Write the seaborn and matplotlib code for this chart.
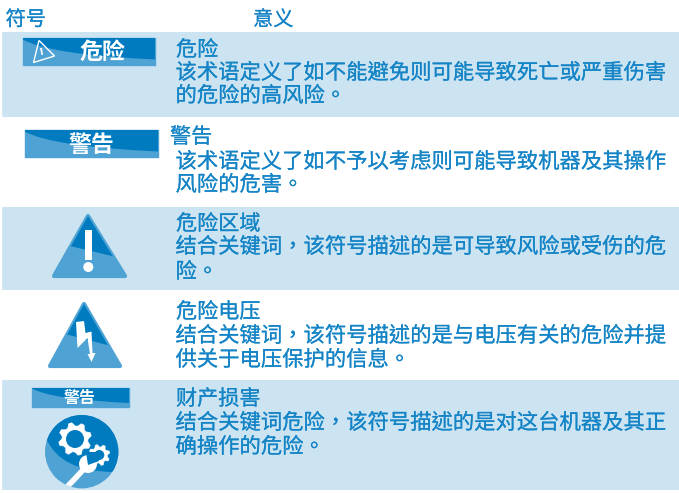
import numpy as np
import matplotlib
matplotlib.use("Agg")
import matplotlib.pyplot as plt
import matplotlib.patheffects as pe
from matplotlib.patches import Polygon, Circle, Rectangle, PathPatch
from matplotlib.path import Path
import seaborn as sns

# rows of the table
row_edges = [32, 117, 207, 290, 380, 490]
row_fill = [679, 0, 679, 0, 679]

headers = ["符号", "意义"]
row_titles = ["危险", "警告", "危险区域", "危险电压", "财产损害"]
row_lines = [
    ["该术语定义了如不能避免则可能导致死亡或严重伤害", "的危险的高风险。"],
    ["该术语定义了如不予以考虑则可能导致机器及其操作", "风险的危害。"],
    ["结合关键词，该符号描述的是可导致风险或受伤的危", "险。"],
    ["结合关键词，该符号描述的是与电压有关的危险并提", "供关于电压保护的信息。"],
    ["结合关键词危险，该符号描述的是对这台机器及其正", "确操作的危险。"],
]
title_y = [50, 137, 224, 312, 399]
title_x = [176, 170, 176, 176, 176]
line_y = [[73, 96], [162, 185], [247, 272], [336, 360], [423, 447]]

DARK = "#007bc0"
LIGHT = "#4fa3d4"
BAND = "#cce4f2"
TEXT = "#1484c6"

sns.set_theme(style="white")
plt.rcParams["font.family"] = ["Noto Sans CJK TC", "DejaVu Sans"]

fig = plt.figure(figsize=(6.79, 4.93), dpi=100)
ax = fig.add_axes([0, 0, 1, 1])

centres = [(a + b) / 2 for a, b in zip(row_edges[:-1], row_edges[1:])]
sns.histplot(y=centres, weights=row_fill, bins=row_edges, color=BAND, alpha=1,
             linewidth=0, ax=ax)
ax.set_xlim(0, 679)
ax.set_ylim(493, 0)
ax.axis("off")
ax.add_patch(Rectangle((0, 0), 1, 493, color="white", zorder=1.5))

thicker = [pe.withStroke(linewidth=0.12, foreground=TEXT)]


def two_tone(shape, curve):
    # light base with the dark top part clipped to the shape
    base = ax.add_patch(PathPatch(shape, fc=LIGHT, ec=LIGHT, lw=1, joinstyle="round", zorder=2))
    dark = ax.add_patch(PathPatch(curve, fc=DARK, ec="none", zorder=3))
    dark.set_clip_path(base)


def badge(x0, y0, x1, y1):
    shape = Path([(x0, y0), (x1, y0), (x1, y1), (x0, y1), (x0, y0)], closed=True)
    h = y1 - y0
    w = x1 - x0
    verts = [(x0 - 2, y0 - 2), (x0, y0 + 0.05 * h), (x0 + 0.2 * w, y0 + 0.62 * h), (x1 + 2, y1 - 0.2 * h),
             (x1 + 2, y0 - 2), (x0 - 2, y0 - 2)]
    codes = [Path.MOVETO, Path.LINETO, Path.CURVE3, Path.CURVE3, Path.LINETO, Path.CLOSEPOLY]
    two_tone(shape, Path(verts, codes))


def triangle(apex, left, right, cut_l, cut_r):
    shape = Path([apex, left, right, apex], closed=True)
    curve = Path([(cut_l[0] - 30, cut_l[1] - 6), cut_l, cut_r, (cut_r[0] + 30, cut_r[1] + 6),
                  (cut_r[0] + 30, apex[1] - 5), (cut_l[0] - 30, apex[1] - 5), (cut_l[0] - 30, cut_l[1] - 6)],
                 closed=True)
    base = ax.add_patch(PathPatch(shape, fc=LIGHT, ec=LIGHT, lw=3, joinstyle="round", zorder=2))
    dark = ax.add_patch(PathPatch(curve, fc=DARK, ec="none", zorder=3))
    dark.set_clip_path(base)


def gear(cx, cy, outer, inner, hole, teeth):
    ang = np.linspace(0, 2 * np.pi, teeth * 4, endpoint=False) + 0.2
    rad = np.tile([inner, outer, outer, inner], teeth)
    pts = np.column_stack([cx + rad * np.cos(ang), cy + rad * np.sin(ang)])
    ax.add_patch(Polygon(pts, fc="white", ec="white", lw=0.5, zorder=5))
    ax.add_patch(Circle((cx, cy), hole, fc=DARK, ec="none", zorder=6))


# header
ax.text(5.5, 20, headers[0], color=TEXT, fontsize=14.6, va="center", ha="left", zorder=6, path_effects=thicker)
ax.text(253, 20, headers[1], color=TEXT, fontsize=14.6, va="center", ha="left", zorder=6, path_effects=thicker)

# right column
for tx, ty, title, ys, lines in zip(title_x, title_y, row_titles, line_y, row_lines):
    ax.text(tx, ty, title, color=TEXT, fontsize=15.2, va="center", ha="left", zorder=6, path_effects=thicker)
    for y, line in zip(ys, lines):
        ax.text(175.5, y, line, color=TEXT, fontsize=15.36, va="center", ha="left", zorder=6, path_effects=thicker)

# badges
badge(22.5, 38, 155, 65)
ax.text(102, 52, "危险", color="white", fontsize=16.5, fontweight="bold", va="center", ha="center", zorder=6)
ax.add_patch(Polygon([(39, 40.5), (54.5, 56), (33.5, 62.5)], fc="none", ec="white", lw=1, zorder=6))
ax.add_patch(Polygon([(40, 48), (42, 48), (43, 55), (41.5, 55)], fc="white", ec="none", zorder=6))

badge(24.5, 130, 158, 157)
ax.text(91, 145, "警告", color="white", fontsize=16.5, fontweight="bold", va="center", ha="center", zorder=6)

badge(32, 387.5, 128.5, 407)
ax.text(80, 398, "警告", color="white", fontsize=11.5, fontweight="bold", va="center", ha="center", zorder=6)

# exclamation triangle
triangle((88, 216), (54, 276), (125, 276), (70, 246), (116, 257))
ax.add_patch(Rectangle((84.5, 230), 7.5, 30, fc="white", ec="none", zorder=6))
ax.add_patch(Circle((88.3, 267), 5, fc="white", ec="none", zorder=6))

# voltage triangle
triangle((84, 304), (50, 366), (120, 366), (65, 334), (111, 346))
bolt = [(76, 322), (84, 321), (85.5, 333), (91.5, 331.5), (92.5, 353), (95.5, 353),
        (91.5, 362), (87.5, 354), (90, 354), (87.5, 338), (77.5, 348)]
ax.add_patch(Polygon(bolt, fc="white", ec="none", zorder=6))

# gear and wrench circle
disc = ax.add_patch(Circle((81.7, 451.7), 36.7, fc=LIGHT, ec="none", zorder=2))
dark_part = Path([(40, 432), (46, 438), (60, 472), (115, 472), (125, 472), (125, 410), (40, 410), (40, 432)],
                 [Path.MOVETO, Path.LINETO, Path.CURVE3, Path.CURVE3, Path.LINETO, Path.LINETO, Path.LINETO,
                  Path.CLOSEPOLY])
dark = ax.add_patch(PathPatch(dark_part, fc=DARK, ec="none", zorder=3))
dark.set_clip_path(disc)

gear(75, 439, 16.5, 13, 9, 8)
gear(99.3, 455, 10.5, 8, 5, 8)

handle = ax.plot([67, 84], [487, 469], color="white", lw=4, solid_capstyle="butt", zorder=5)[0]
handle.set_clip_path(disc)
ax.add_patch(Circle((88, 464), 9, fc="white", ec="none", zorder=5))
ax.add_patch(Polygon([(88, 465), (86, 452), (99, 452), (99, 461)], fc=DARK, ec="none", zorder=5.5))

fig.savefig("out.png", dpi=100)
